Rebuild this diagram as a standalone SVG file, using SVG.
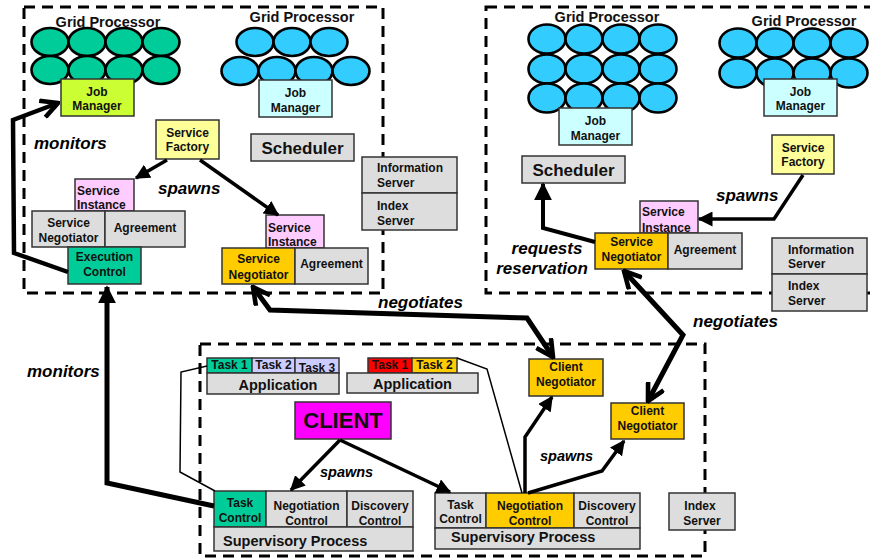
<svg xmlns="http://www.w3.org/2000/svg" width="870" height="558" viewBox="0 0 870 558">
<defs>
<marker id="tri" viewBox="0 0 10 10" refX="9" refY="5" markerUnits="userSpaceOnUse" markerWidth="15" markerHeight="15" orient="auto"><path d="M0,0 L10,5 L0,10 z" fill="#000"/></marker>
<marker id="triL" viewBox="0 0 10 10" refX="9" refY="5" markerUnits="userSpaceOnUse" markerWidth="18" markerHeight="18" orient="auto"><path d="M0,0 L10,5 L0,10 z" fill="#000"/></marker>
<marker id="vee" viewBox="0 0 10 10" refX="9" refY="5" markerUnits="userSpaceOnUse" markerWidth="21" markerHeight="21" orient="auto-start-reverse"><path d="M1,0.8 L9,5 L1,9.2" fill="none" stroke="#000" stroke-width="2.2" stroke-linejoin="miter"/></marker>
</defs>
<style>
.dash{fill:none;stroke:#000;stroke-width:3;stroke-dasharray:11,7}
.box{stroke:#333;stroke-width:1.5}
.g{fill:#dddddd}
.el{stroke:#000;stroke-width:2.6}
.t{font-family:"Liberation Sans",Arial,sans-serif;font-weight:bold;font-size:12px;fill:#111;text-anchor:middle}
.tl{text-anchor:start}
.gp{font-size:14.5px}
.big{font-size:17px}
.app{font-size:14.5px}
.lab{font-family:"Liberation Sans",Arial,sans-serif;font-weight:bold;font-style:italic;font-size:17px;fill:#000}
.sm{font-size:14.5px}
.thick{fill:none;stroke:#000;stroke-width:5;stroke-linejoin:miter}
.med{fill:none;stroke:#000;stroke-width:3.5}
.thin{fill:none;stroke:#000;stroke-width:1.5}
</style>
<rect width="870" height="558" fill="#fff"/>
<g id="containers">
<rect class="dash" x="24" y="7" width="359" height="286"/>
<rect class="dash" x="486" y="7" width="400" height="286"/>
<rect class="dash" x="200" y="344" width="505" height="212"/>
</g>
<g id="grid1">
<text class="t gp" x="108" y="27">Grid Processor</text>
<g fill="#00cc99" class="el">
<ellipse cx="50" cy="42" rx="18.5" ry="14"/><ellipse cx="87" cy="42" rx="18.5" ry="14"/><ellipse cx="124" cy="42" rx="18.5" ry="14"/><ellipse cx="161" cy="42" rx="18.5" ry="14"/>
<ellipse cx="50" cy="70" rx="18.5" ry="14"/><ellipse cx="87" cy="70" rx="18.5" ry="14"/><ellipse cx="124" cy="70" rx="18.5" ry="14"/><ellipse cx="161" cy="70" rx="18.5" ry="14"/>
</g>
</g>
<g id="jm1"><rect class="box" x="61" y="79" width="73" height="37" fill="#ccff33"/><text class="t" x="97" y="96">Job</text><text class="t" x="97" y="110">Manager</text></g>
<g id="grid2">
<text class="t gp" x="302" y="22">Grid Processor</text>
<g fill="#33ccff" class="el">
<ellipse cx="255" cy="42" rx="18.5" ry="14"/><ellipse cx="292" cy="42" rx="18.5" ry="14"/><ellipse cx="329" cy="42" rx="18.5" ry="14"/>
<ellipse cx="240" cy="71" rx="18.5" ry="14"/><ellipse cx="277" cy="71" rx="18.5" ry="14"/><ellipse cx="314" cy="71" rx="18.5" ry="14"/><ellipse cx="351" cy="71" rx="18.5" ry="14"/>
</g>
</g>
<g id="jm2"><rect class="box" x="259" y="80" width="73" height="37" fill="#ccffff"/><text class="t" x="295.5" y="97">Job</text><text class="t" x="295.5" y="112">Manager</text></g>
<g id="sf1"><rect class="box" x="156" y="120" width="63" height="39" fill="#ffff99"/><text class="t" x="187.5" y="137">Service</text><text class="t" x="187.5" y="151">Factory</text></g>
<g id="sched1"><rect class="box g" x="251" y="134" width="103" height="27"/><text class="t big" x="302.5" y="154">Scheduler</text></g>
<g id="info1"><rect class="box g" x="362" y="157" width="95" height="36"/><text class="t tl" x="377" y="172">Information</text><text class="t tl" x="377" y="187">Server</text></g>
<g id="index1"><rect class="box g" x="362" y="193" width="95" height="37"/><text class="t tl" x="377" y="210">Index</text><text class="t tl" x="377" y="225">Server</text></g>
<g id="si1"><rect class="box" x="75" y="179" width="59" height="32" fill="#ffccff"/><text class="t tl" x="77" y="195">Service</text><text class="t tl" x="77" y="209">Instance</text></g>
<g id="sn1"><rect class="box g" x="32" y="211" width="73" height="36"/><text class="t" x="68.5" y="227">Service</text><text class="t" x="68.5" y="242">Negotiator</text></g>
<g id="ag1"><rect class="box g" x="105" y="211" width="80" height="36"/><text class="t" x="145" y="232">Agreement</text></g>
<g id="ec1"><rect class="box" x="68" y="247" width="73" height="37" fill="#00cc99"/><text class="t" x="104.5" y="261">Execution</text><text class="t" x="104.5" y="276">Control</text></g>
<g id="si2"><rect class="box" x="266" y="215" width="58" height="33" fill="#ffccff"/><text class="t tl" x="268" y="232">Service</text><text class="t tl" x="268" y="246">Instance</text></g>
<g id="sn2"><rect class="box" x="222" y="248" width="73" height="36" fill="#ffcc00"/><text class="t" x="258.5" y="263">Service</text><text class="t" x="258.5" y="279">Negotiator</text></g>
<g id="ag2"><rect class="box g" x="295" y="248" width="73" height="36"/><text class="t" x="331.5" y="268">Agreement</text></g>
<g id="grid3">
<text class="t gp" x="607" y="22">Grid Processor</text>
<g fill="#33ccff" class="el">
<ellipse cx="547" cy="39" rx="18.5" ry="14.5"/><ellipse cx="584" cy="39" rx="18.5" ry="14.5"/><ellipse cx="621" cy="39" rx="18.5" ry="14.5"/><ellipse cx="658" cy="39" rx="18.5" ry="14.5"/>
<ellipse cx="547" cy="69" rx="18.5" ry="14.5"/><ellipse cx="584" cy="69" rx="18.5" ry="14.5"/><ellipse cx="621" cy="69" rx="18.5" ry="14.5"/><ellipse cx="658" cy="69" rx="18.5" ry="14.5"/>
<ellipse cx="547" cy="98" rx="18.5" ry="14.5"/><ellipse cx="584" cy="98" rx="18.5" ry="14.5"/><ellipse cx="621" cy="98" rx="18.5" ry="14.5"/><ellipse cx="658" cy="98" rx="18.5" ry="14.5"/>
</g>
</g>
<g id="jm3"><rect class="box" x="559" y="108" width="73" height="37" fill="#ccffff"/><text class="t" x="595.5" y="125">Job</text><text class="t" x="595.5" y="140">Manager</text></g>
<g id="grid4">
<text class="t gp" x="804" y="26">Grid Processor</text>
<g fill="#33ccff" class="el">
<ellipse cx="738" cy="43" rx="18.5" ry="14.5"/><ellipse cx="775" cy="43" rx="18.5" ry="14.5"/><ellipse cx="812" cy="43" rx="18.5" ry="14.5"/><ellipse cx="849" cy="43" rx="18.5" ry="14.5"/>
<ellipse cx="738" cy="73" rx="18.5" ry="14.5"/><ellipse cx="775" cy="73" rx="18.5" ry="14.5"/><ellipse cx="812" cy="73" rx="18.5" ry="14.5"/><ellipse cx="849" cy="73" rx="18.5" ry="14.5"/>
</g>
</g>
<g id="jm4"><rect class="box" x="764" y="79" width="73" height="37" fill="#ccffff"/><text class="t" x="800.5" y="96">Job</text><text class="t" x="800.5" y="110">Manager</text></g>
<g id="sf2"><rect class="box" x="772" y="135" width="62" height="39" fill="#ffff99"/><text class="t" x="803" y="152">Service</text><text class="t" x="803" y="166">Factory</text></g>
<g id="sched2"><rect class="box g" x="522" y="156" width="103" height="27"/><text class="t big" x="573.5" y="176">Scheduler</text></g>
<g id="si3"><rect class="box" x="640" y="201" width="58" height="32" fill="#ffccff"/><text class="t tl" x="642" y="216">Service</text><text class="t tl" x="642" y="232">Instance</text></g>
<g id="sn3"><rect class="box" x="595" y="233" width="73" height="36" fill="#ffcc00"/><text class="t" x="631.5" y="246">Service</text><text class="t" x="631.5" y="261">Negotiator</text></g>
<g id="ag3"><rect class="box g" x="668" y="233" width="74" height="36"/><text class="t" x="705" y="254">Agreement</text></g>
<g id="info2"><rect class="box g" x="772" y="238" width="95" height="36"/><text class="t tl" x="788" y="254">Information</text><text class="t tl" x="788" y="268">Server</text></g>
<g id="index2"><rect class="box g" x="772" y="274" width="95" height="37"/><text class="t tl" x="788" y="290">Index</text><text class="t tl" x="788" y="305">Server</text></g>
<g id="app1">
<rect class="box" x="207" y="358" width="45" height="15" fill="#00cc99"/><text class="t" x="229.5" y="369">Task 1</text>
<rect class="box" x="252" y="358" width="43" height="15" fill="#ccccff"/><text class="t" x="273.5" y="369">Task 2</text>
<rect class="box" x="295" y="358" width="44" height="15" fill="#ccccff"/><text class="t" x="317" y="372">Task 3</text>
<rect class="box g" x="207" y="373" width="132" height="21"/><text class="t app" x="278" y="390">Application</text>
</g>
<g id="app2">
<rect class="box" x="368" y="358" width="44" height="15" fill="#ff0000"/><text class="t" x="390" y="369">Task 1</text>
<rect class="box" x="412" y="358" width="45" height="15" fill="#ffcc00"/><text class="t" x="434.5" y="369">Task 2</text>
<rect class="box g" x="347" y="373" width="131" height="20"/><text class="t app" x="412.5" y="389">Application</text>
</g>
<g id="client"><rect class="box" x="295" y="402" width="96" height="37" fill="#ff00ff"/><text class="t" x="343" y="428" style="font-size:22px">CLIENT</text></g>
<g id="sp1">
<rect class="box" x="214" y="491" width="52" height="36" fill="#00cc99"/><text class="t" x="240" y="507">Task</text><text class="t" x="240" y="522">Control</text>
<rect class="box g" x="266" y="491" width="81" height="36"/><text class="t" x="306.5" y="510">Negotiation</text><text class="t" x="306.5" y="525">Control</text>
<rect class="box g" x="347" y="491" width="66" height="36"/><text class="t" x="380" y="510">Discovery</text><text class="t" x="380" y="525">Control</text>
<rect class="box g" x="214" y="527" width="199" height="24"/><text class="t tl app" x="223" y="546">Supervisory Process</text>
</g>
<g id="sp2">
<rect class="box g" x="435" y="493" width="51" height="35"/><text class="t" x="460.5" y="509">Task</text><text class="t" x="460.5" y="523">Control</text>
<rect class="box" x="486" y="493" width="88" height="35" fill="#ffcc00"/><text class="t" x="530" y="510">Negotiation</text><text class="t" x="530" y="525">Control</text>
<rect class="box g" x="574" y="493" width="66" height="35"/><text class="t" x="607" y="510">Discovery</text><text class="t" x="607" y="525">Control</text>
<rect class="box g" x="435" y="528" width="205" height="21"/><text class="t tl app" x="451" y="542">Supervisory Process</text>
</g>
<g id="cn1"><rect class="box" x="529" y="359" width="74" height="37" fill="#ffcc00"/><text class="t" x="566" y="371">Client</text><text class="t" x="566" y="386">Negotiator</text></g>
<g id="cn2"><rect class="box" x="611" y="403" width="73" height="36" fill="#ffcc00"/><text class="t" x="647.5" y="415">Client</text><text class="t" x="647.5" y="430">Negotiator</text></g>
<g id="index3"><rect class="box g" x="669" y="493" width="66" height="37"/><text class="t" x="700" y="510">Index</text><text class="t" x="702" y="525">Server</text></g>
<g id="connectors">
<path class="thick" style="stroke-width:4.5" d="M68,272 L14,253 L13,120 L58,103" marker-end="url(#vee)"/>
<path class="thick" d="M214,506 L107,483 L107,287" marker-end="url(#triL)"/>
<path class="med" d="M167,160 L136,178" marker-end="url(#tri)"/>
<path class="med" d="M200,160 L278,215" marker-end="url(#tri)"/>
<path class="med" d="M803,175 L774,219 L699,219" marker-end="url(#tri)"/>
<path class="thick" style="stroke-width:4" d="M595,242 L543,228 L543,184" marker-end="url(#triL)"/>
<path class="thick" d="M253,287 L270,310 L527,318 L553,357" marker-start="url(#vee)" marker-end="url(#vee)"/>
<path class="thick" d="M624,271 L683,335 L648,401" marker-start="url(#vee)" marker-end="url(#vee)"/>
<path class="med" d="M340,440 L291,490" marker-end="url(#tri)"/>
<path class="med" d="M340,440 L450,492" marker-end="url(#tri)"/>
<path class="med" d="M525,493 L525,437 L552,397" marker-end="url(#tri)"/>
<path class="med" d="M528,493 L602,471 L624,441" marker-end="url(#tri)"/>
<path class="thin" d="M207,366 L181,372 L180,472 L215,491"/>
<path class="thin" d="M457,358 L487,369 L522,493"/>
</g>
<g id="labels">
<text class="lab" x="34" y="149">monitors</text>
<text class="lab" x="158" y="194">spawns</text>
<text class="lab" x="378" y="308">negotiates</text>
<text class="lab" x="547" y="254" text-anchor="middle">requests</text>
<text class="lab" x="542" y="274" text-anchor="middle">reservation</text>
<text class="lab" x="716" y="201">spawns</text>
<text class="lab" x="693" y="327">negotiates</text>
<text class="lab" x="27" y="377">monitors</text>
<text class="lab sm" x="320" y="477">spawns</text>
<text class="lab sm" x="540" y="461">spawns</text>
</g>
</svg>
